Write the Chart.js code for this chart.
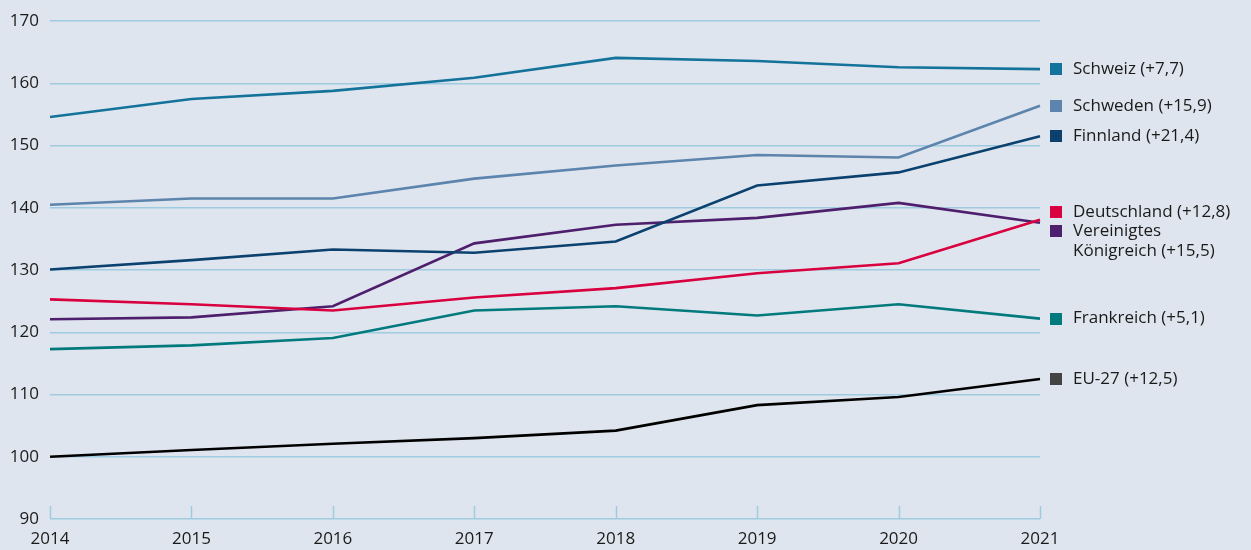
<!DOCTYPE html>
<html><head><meta charset="utf-8">
<script src="https://cdn.jsdelivr.net/npm/chart.js@4/dist/chart.umd.min.js"></script>
<style>
html,body{margin:0;padding:0;background:#dfe5ee;}
#wrap{width:1251px;height:550px;position:relative;}
</style></head>
<body><div id="wrap"><canvas id="c" width="1251" height="550"></canvas></div>
<script>
const years = ["2014","2015","2016","2017","2018","2019","2020","2021"];
const yTicks = [90,100,110,120,130,140,150,160,170];
const seriesNames = ["Schweiz","Schweden","Finnland","Deutschland","Vereinigtes Königreich","Frankreich","EU-27"];
const seriesLabels = [["Schweiz (+7,7)"],["Schweden (+15,9)"],["Finnland (+21,4)"],["Deutschland (+12,8)"],["Vereinigtes","Königreich (+15,5)"],["Frankreich (+5,1)"],["EU-27 (+12,5)"]];
const schweiz     = [154.6,157.5,158.8,160.9,164.1,163.6,162.6,162.3];
const schweden    = [140.5,141.5,141.5,144.7,146.8,148.5,148.1,156.4];
const finnland    = [130.1,131.6,133.3,132.8,134.6,143.6,145.7,151.5];
const deutschland = [125.3,124.5,123.5,125.6,127.1,129.5,131.1,138.1];
const vk          = [122.1,122.4,124.2,134.3,137.3,138.4,140.8,137.6];
const frankreich  = [117.3,117.9,119.1,123.5,124.2,122.7,124.5,122.2];
const eu27        = [100.0,101.1,102.1,103.0,104.2,108.3,109.6,112.5];
const lineColors  = ["#14739a","#5c84ad","#0b416e","#d9003f","#4d1f6c","#007a7c","#000000"];
const swatchColors= ["#14739a","#5c84ad","#0b416e","#d9003f","#4d1f6c","#007a7c","#444444"];
const allValues = [schweiz,schweden,finnland,deutschland,vk,frankreich,eu27];

const FONT = "'Open Sans', sans-serif";
const TEXT = "#1a1a1a";
const GRID = "#9fcbe0";

const upTicks = {
  id:'upTicks',
  afterDatasetsDraw(chart){
    const {ctx, scales:{x,y}} = chart;
    const yb = y.getPixelForValue(90);
    ctx.save();
    ctx.strokeStyle = GRID; ctx.lineWidth = 1.5;
    years.forEach((_,i)=>{
      const px = Math.round(x.getPixelForValue(i))+0.5;
      ctx.beginPath(); ctx.moveTo(px,yb); ctx.lineTo(px,yb-13); ctx.stroke();
    });
    ctx.restore();
  }
};

const endLabels = {
  id:'endLabels',
  afterDraw(chart){
    const {ctx, chartArea, scales:{y}} = chart;
    const items = allValues.map((v,i)=>({i, y:y.getPixelForValue(v[v.length-1])}));
    items.sort((a,b)=>a.y-b.y);
    const gap = 19;
    for(let k=1;k<items.length;k++){
      const a=items[k-1], b=items[k];
      if(b.y-a.y<gap){
        const mid=(a.y+b.y)/2; a.y=mid-gap/2; b.y=mid+gap/2;
      }
    }
    ctx.save();
    ctx.font = "17px " + FONT;
    ctx.textBaseline = "middle";
    ctx.textAlign = "left";
    items.forEach(it=>{
      const x0 = chartArea.right + 10;
      ctx.fillStyle = swatchColors[it.i];
      ctx.fillRect(x0, Math.round(it.y-6), 12, 12);
      ctx.fillStyle = TEXT;
      seriesLabels[it.i].forEach((t,j)=>{
        ctx.fillText(t, x0+23, it.y + j*20);
      });
    });
    ctx.restore();
  }
};

const bg = {
  id:'bg',
  beforeDraw(chart){
    const {ctx,width,height}=chart;
    ctx.save(); ctx.fillStyle="#dfe5ee"; ctx.fillRect(0,0,width,height); ctx.restore();
  }
};

new Chart(document.getElementById('c'),{
  type:'line',
  data:{
    labels:years,
    datasets: allValues.map((v,i)=>({
      label:seriesNames[i], data:v, borderColor:lineColors[i], backgroundColor:lineColors[i],
      borderWidth:2.6, pointRadius:0, tension:0, fill:false
    }))
  },
  options:{
    responsive:false, animation:false,
    layout:{padding:{left:0,right:211,top:20,bottom:0}},
    plugins:{legend:{display:false}, tooltip:{enabled:false}},
    scales:{
      x:{
        offset:false,
        grid:{display:false, drawTicks:false},
        border:{display:false},
        ticks:{font:{family:"'Open Sans', sans-serif", size:17}, color:TEXT, padding:10, maxRotation:0, autoSkip:false},
        afterFit(s){ s.height = 31; }
      },
      y:{
        min:90, max:170,
        afterBuildTicks(s){ s.ticks = yTicks.map(v=>({value:v})); },
        grid:{color:GRID, lineWidth:1.5, drawTicks:false},
        border:{display:false},
        ticks:{font:{family:"'Open Sans', sans-serif", size:17}, color:TEXT, padding:11},
        afterFit(s){ s.width = 50; }
      }
    }
  },
  plugins:[bg, upTicks, endLabels]
});
</script></body></html>
